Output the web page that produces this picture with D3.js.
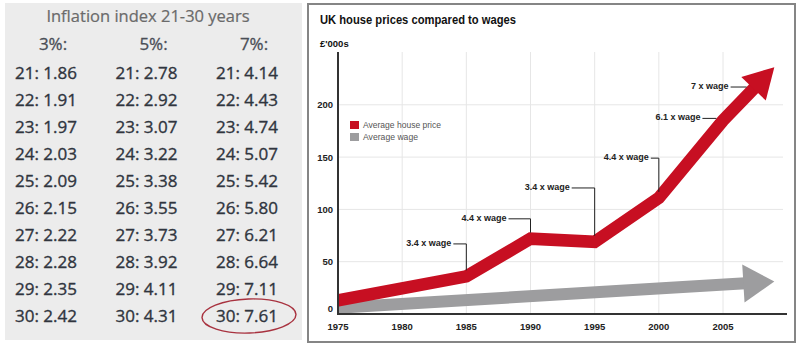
<!DOCTYPE html>
<html>
<head>
<meta charset="utf-8">
<script src="https://cdn.jsdelivr.net/npm/d3@7"></script>
<style>
  html, body { margin: 0; padding: 0; background: #fff; }
  svg { display: block; }
</style>
</head>
<body>
<div id="chart"></div>
<script>
// ---------- Data: inflation index table ----------
const tableTitle = "Inflation index 21-30 years";
const rateHeaders = ["3%:", "5%:", "7%:"];
const tableYears = [21, 22, 23, 24, 25, 26, 27, 28, 29, 30];
const index3 = [1.86, 1.91, 1.97, 2.03, 2.09, 2.15, 2.22, 2.28, 2.35, 2.42];
const index5 = [2.78, 2.92, 3.07, 3.22, 3.38, 3.55, 3.73, 3.92, 4.11, 4.31];
const index7 = [4.14, 4.43, 4.74, 5.07, 5.42, 5.80, 6.21, 6.64, 7.11, 7.61];
const highlightCol = 2, highlightRow = 9;

// ---------- Data: UK house prices vs wages ----------
const chartTitle = "UK house prices compared to wages";
const yUnit = "£'000s";
const priceYears = [1975, 1985, 1990, 1995, 2000, 2005, 2009];
const housePrice = [13, 36, 72, 69, 111, 185, 236];
const wageYears = [1975, 2009];
const wage = [6, 31];
const xTicks = [1975, 1980, 1985, 1990, 1995, 2000, 2005];
const yTicks = [0, 50, 100, 150, 200];
const legendLabels = ["Average house price", "Average wage"];
const annoLabels = ["3.4 x wage", "4.4 x wage", "3.4 x wage", "4.4 x wage", "6.1 x wage", "7 x wage"];
const annoYears = [1985, 1990, 1995, 2000, null, null];
const annoLevels = [67, 91, 120.5, 149, 187, 217];

// ---------- Layout ----------
const W = 800, H = 348;
const red = "#c70f22", grey = "#9d9d9f";
const svg = d3.select("#chart").append("svg").attr("width", W).attr("height", H);
svg.append("rect").attr("width", W).attr("height", H).attr("fill", "#fff");

// ===== Left panel: table =====
const left = svg.append("g");
left.append("rect").attr("x", 5).attr("y", 3).attr("width", 297).attr("height", 337).attr("fill", "#ececec");
left.append("text").attr("x", 148).attr("y", 22).attr("text-anchor", "middle")
  .attr("font-family", "Open Sans").attr("font-size", 16.5).attr("fill", "#6a6a6a")
  .attr("stroke", "#6a6a6a").attr("stroke-width", 0.2).text(tableTitle);

const colX = d3.scalePoint().domain([0, 1, 2]).range([15, 216]);
const rowY = d3.scalePoint().domain(d3.range(tableYears.length)).range([79, 322]);
const cols = [index3, index5, index7];

left.selectAll("text.hdr").data(rateHeaders).join("text").attr("class", "hdr")
  .attr("x", (d, i) => colX(i) + 38).attr("y", 50).attr("text-anchor", "middle")
  .attr("font-family", "Open Sans").attr("font-size", 17).attr("fill", "#4a4e56")
  .attr("stroke", "#4a4e56").attr("stroke-width", 0.3).text(d => d);

cols.forEach((vals, ci) => {
  left.selectAll("text.c" + ci).data(vals).join("text").attr("class", "c" + ci)
    .attr("x", colX(ci)).attr("y", (d, i) => rowY(i))
    .attr("font-family", "Open Sans").attr("font-size", 17).attr("fill", "#30353e")
    .attr("stroke", "#30353e").attr("stroke-width", 0.35)
    .text((d, i) => tableYears[i] + ": " + d.toFixed(2));
});
// highlight ellipse around selected cell
left.append("ellipse")
  .attr("cx", colX(highlightCol) + 33).attr("cy", rowY(highlightRow) - 6)
  .attr("rx", 47).attr("ry", 17)
  .attr("transform", `rotate(-2 ${colX(highlightCol) + 33} ${rowY(highlightRow) - 6})`)
  .attr("fill", "none").attr("stroke", "#a8323f").attr("stroke-width", 1.4);

// ===== Right panel: chart =====
const right = svg.append("g");
right.append("rect").attr("x", 308).attr("y", 4).attr("width", 487).attr("height", 338)
  .attr("fill", "#fff").attr("stroke", "#858585").attr("stroke-width", 2);

right.append("text").attr("x", 320).attr("y", 24)
  .attr("font-family", "Liberation Sans, Arial").attr("font-weight", "bold").attr("font-size", 13.5)
  .attr("fill", "#111").attr("textLength", 196).attr("lengthAdjust", "spacingAndGlyphs").text(chartTitle);
right.append("text").attr("x", 320).attr("y", 47)
  .attr("font-family", "Liberation Sans, Arial").attr("font-weight", "bold").attr("font-size", 9.5)
  .attr("fill", "#111").text(yUnit);

const x = d3.scaleLinear().domain([1975, 2005]).range([338, 723]);
const y = d3.scaleLinear().domain([0, 200]).range([314, 104.8]);

// gridlines
right.selectAll("line.hg").data(yTicks.filter(d => d > 0)).join("line").attr("class", "hg")
  .attr("x1", x(1975)).attr("x2", 783).attr("y1", d => y(d)).attr("y2", d => y(d))
  .attr("stroke", "#e6e6e6").attr("stroke-width", 1);
right.selectAll("line.vg").data(xTicks.filter(d => d > 1975)).join("line").attr("class", "vg")
  .attr("x1", d => x(d)).attr("x2", d => x(d)).attr("y1", 52).attr("y2", y(0))
  .attr("stroke", "#e6e6e6").attr("stroke-width", 1);

// legend
const leg = right.append("g");
[red, grey].forEach((c, i) => {
  leg.append("rect").attr("x", 350).attr("y", 121 + i * 12).attr("width", 9).attr("height", 8).attr("fill", c);
  leg.append("text").attr("x", 363).attr("y", 128 + i * 12)
    .attr("font-family", "Liberation Sans, Arial").attr("font-size", 9).attr("fill", "#555")
    .attr("textLength", i === 0 ? 78 : 55).attr("lengthAdjust", "spacingAndGlyphs").text(legendLabels[i]);
});

// clip at the y axis
svg.append("defs").append("clipPath").attr("id", "plotclip")
  .append("rect").attr("x", x(1975)).attr("y", 0).attr("width", 460).attr("height", y(0) + 1);

function arrowSeries(g, pts, color, width, headLen, headHalf) {
  const n = pts.length;
  const tip = pts[n - 1], prev = pts[n - 2];
  const dx = tip[0] - prev[0], dy = tip[1] - prev[1];
  const L = Math.hypot(dx, dy), ux = dx / L, uy = dy / L;
  const base = [tip[0] - ux * headLen, tip[1] - uy * headLen];
  const shaftEnd = [tip[0] - ux * (headLen - 2), tip[1] - uy * (headLen - 2)];
  const shaft = pts.slice(0, n - 1).concat([shaftEnd]);
  g.append("path").attr("d", d3.line()(shaft)).attr("fill", "none").attr("stroke", color)
    .attr("stroke-width", width).attr("stroke-linejoin", "miter").attr("stroke-linecap", "butt")
    .attr("clip-path", "url(#plotclip)");
  const s0 = pts[0], s1 = pts[1];
  const sx = s1[0] - s0[0], sy = s1[1] - s0[1], sl = Math.hypot(sx, sy);
  g.append("path").attr("d", d3.line()([[s0[0] - sx / sl * 8, s0[1] - sy / sl * 8], s0]))
    .attr("stroke", color).attr("stroke-width", width).attr("clip-path", "url(#plotclip)");
  const px = -uy, py = ux;
  g.append("path").attr("d", d3.line()([
    tip,
    [base[0] + px * headHalf, base[1] + py * headHalf],
    [base[0] - px * headHalf, base[1] - py * headHalf]
  ]) + "Z").attr("fill", color);
}

const wagePts = wageYears.map((yr, i) => [x(yr), y(wage[i])]);
const pricePts = priceYears.map((yr, i) => [x(yr), y(housePrice[i])]);
arrowSeries(right, wagePts, grey, 12, 31, 19);
arrowSeries(right, pricePts, red, 12.5, 30, 17);

// axes
right.append("line").attr("x1", x(1975)).attr("x2", x(1975)).attr("y1", 52).attr("y2", y(0) + 1)
  .attr("stroke", "#333").attr("stroke-width", 2);
right.append("line").attr("x1", x(1975) - 1).attr("x2", 787).attr("y1", y(0)).attr("y2", y(0))
  .attr("stroke", "#333").attr("stroke-width", 2);

right.selectAll("text.yt").data(yTicks).join("text").attr("class", "yt")
  .attr("x", 333).attr("y", d => y(d) + (d === 0 ? -2 : 3.5)).attr("text-anchor", "end")
  .attr("font-family", "Liberation Sans, Arial").attr("font-weight", "bold").attr("font-size", 9.5)
  .attr("fill", "#222").text(d => d);
right.selectAll("text.xt").data(xTicks).join("text").attr("class", "xt")
  .attr("x", d => x(d)).attr("y", 330).attr("text-anchor", "middle")
  .attr("font-family", "Liberation Sans, Arial").attr("font-weight", "bold").attr("font-size", 9.5)
  .attr("fill", "#222").text(d => d);

// annotations
const hLen = [13, 22, 23, 8, 14, 16];
function xOnPriceLine(py) {
  for (let i = 0; i < pricePts.length - 1; i++) {
    const a = pricePts[i], b = pricePts[i + 1];
    if ((py <= a[1] && py >= b[1]) || (py >= a[1] && py <= b[1])) {
      const t = (py - a[1]) / (b[1] - a[1]);
      const xx = a[0] + t * (b[0] - a[0]);
      const ang = Math.atan2(Math.abs(b[1] - a[1]), b[0] - a[0]);
      return xx - 6.2 / Math.sin(ang);
    }
  }
  return pricePts[pricePts.length - 1][0];
}
annoLabels.forEach((lab, i) => {
  const ly = y(annoLevels[i]);
  let ex;
  const path = [];
  if (annoYears[i] !== null) {
    ex = x(annoYears[i]);
    const vi = priceYears.indexOf(annoYears[i]);
    path.push([ex - hLen[i], ly], [ex, ly], [ex, y(housePrice[vi]) - 6]);
  } else {
    ex = xOnPriceLine(ly);
    path.push([ex - hLen[i], ly], [ex, ly]);
  }
  right.append("path").attr("d", d3.line()(path)).attr("fill", "none")
    .attr("stroke", "#222").attr("stroke-width", 1);
  right.append("text").attr("x", ex - hLen[i] - 2).attr("y", ly + 2)
    .attr("text-anchor", "end")
    .attr("font-family", "Liberation Sans, Arial").attr("font-weight", "bold").attr("font-size", 9)
    .attr("fill", "#222").text(lab);
});
</script>
</body>
</html>
